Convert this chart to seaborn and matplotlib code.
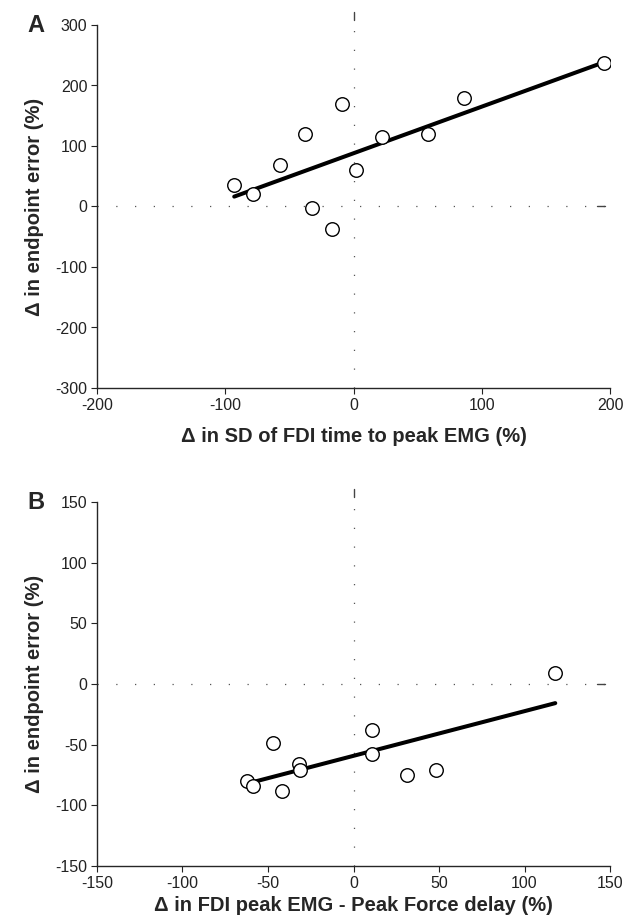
import matplotlib
matplotlib.use("Agg")
import matplotlib.pyplot as plt
import seaborn as sns
import numpy as np
import pandas as pd

# Panel A data
a_x = [-93, -78, -57, -38, -32, -17, -9, 2, 22, 58, 86, 195]
a_y = [35, 20, 68, 120, -2, -38, 170, 60, 115, 120, 180, 238]
# Panel B data
b_x = [-62, -59, -47, -42, -32, -31, 11, 11, 31, 48, 118]
b_y = [-80, -84, -49, -88, -66, -71, -38, -58, -75, -71, 9]

a_xticks = [-200, -100, 0, 100, 200]
a_yticks = [-300, -200, -100, 0, 100, 200, 300]
b_xticks = [-150, -100, -50, 0, 50, 100, 150]
b_yticks = [-150, -100, -50, 0, 50, 100, 150]

a_xlabel = "\u0394 in SD of FDI time to peak EMG (%)"
b_xlabel = "\u0394 in FDI peak EMG - Peak Force delay (%)"
ylabel = "\u0394 in endpoint error (%)"

sns.set_style("ticks")
plt.rcParams['font.family'] = ['Liberation Sans', 'DejaVu Sans']
plt.rcParams['axes.unicode_minus'] = False

fig = plt.figure(figsize=(6.32, 9.21), dpi=100)
axA = fig.add_axes([97/632, 1-388/921, (610-97)/632, (388-25)/921])
axB = fig.add_axes([97/632, 1-866/921, (610-97)/632, (866-502)/921])

def draw(ax, xs, ys, xticks, yticks, xlabel, letter, xlabelpad):
    df = pd.DataFrame({"x": xs, "y": ys})
    sns.regplot(data=df, x="x", y="y", ax=ax, ci=None,
                scatter_kws=dict(s=95, facecolor="white", edgecolor="black",
                                 linewidths=1.0, alpha=1, zorder=3),
                line_kws=dict(color="black", lw=2.9, zorder=2))
    ax.set_xlim(xticks[0], xticks[-1])
    ax.set_ylim(yticks[0], yticks[-1])
    ax.set_xticks(xticks)
    ax.set_yticks(yticks)
    ax.axhline(0, color="#555555", lw=0.9, ls=(0, (1, 14)), zorder=1)
    ax.axvline(0, color="#555555", lw=0.9, ls=(0, (1, 14)), zorder=1,
               ymin=0, ymax=1.0)
    # small end marks of the reference lines (top of x=0 line, right of y=0 line)
    ax.plot([0.5, 0.5], [1.015, 1.035], transform=ax.transAxes, color="#444444",
            lw=1.0, clip_on=False)
    ax.plot([0.975, 0.99], [0.5, 0.5], transform=ax.transAxes, color="#444444",
            lw=1.0, clip_on=False)
    sns.despine(ax=ax)
    ax.spines['left'].set_linewidth(1.0)
    ax.spines['bottom'].set_linewidth(1.0)
    ax.tick_params(axis='both', direction='out', length=4, width=0.8,
                   labelsize=11.5, pad=3, colors="#222222", labelcolor="#222222")
    ax.set_xlabel(xlabel, fontsize=14.5, fontweight='bold', labelpad=xlabelpad)
    ax.set_ylabel(ylabel, fontsize=14.5, fontweight='bold', labelpad=8)
    ax.text(-0.135, 1.0, letter, transform=ax.transAxes, fontsize=17,
            fontweight='bold', ha='left', va='center')

draw(axA, a_x, a_y, a_xticks, a_yticks, a_xlabel, "A", 10)
draw(axB, b_x, b_y, b_xticks, b_yticks, b_xlabel, "B", 4)

fig.savefig("out.png", dpi=100)
